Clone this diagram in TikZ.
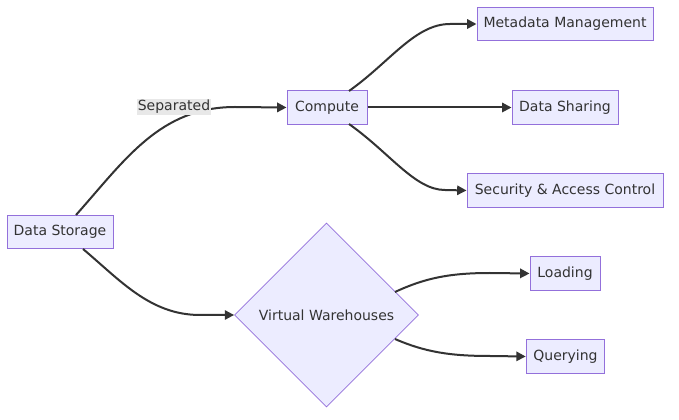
\documentclass[tikz,border=0pt]{standalone}
\usepackage{fontspec}
\setmainfont{DejaVu Sans}
\usetikzlibrary{arrows.meta,shapes.geometric}
\definecolor{nodefill}{HTML}{ECECFF}
\definecolor{nodeline}{HTML}{9370DB}
\definecolor{edgecol}{HTML}{333333}
\definecolor{lblbg}{HTML}{E8E8E8}
\begin{document}
\begin{tikzpicture}[x=0.75pt,y=-0.75pt,
  font=\fontsize{10.5pt}{12pt}\selectfont, text=edgecol,
  box/.style={draw=nodeline, fill=nodefill, line width=0.75pt, inner sep=0pt, minimum height=25pt},
  dia/.style={diamond, draw=nodeline, fill=nodefill, line width=0.6pt, inner sep=0pt, minimum width=138pt, minimum height=138pt},
  edge/.style={draw=edgecol, line width=1.5pt, -{Triangle[length=7pt,width=7pt]}},
  lbl/.style={fill=lblbg, inner sep=1pt}]
\useasboundingbox (0,0) rectangle (679,420);
\node[box, minimum width=79.5pt] (ds) at (60,232) {Data Storage};
\node[box, minimum width=60pt] (cp) at (327,107.5) {Compute};
\node[box, minimum width=132pt] (mm) at (565,24) {Metadata Management};
\node[box, minimum width=79.5pt] (sh) at (565,107.5) {Data Sharing};
\node[box, minimum width=147pt] (sec) at (565,190.5) {Security \& Access Control};
\node[dia] (vw) at (326.5,315) {Virtual Warehouses};
\node[box, minimum width=52.5pt] (ld) at (565,273.5) {Loading};
\node[box, minimum width=59pt] (qr) at (565.5,356.5) {Querying};

\coordinate (dsT) at (76,215);
\coordinate (dsB) at (83,249);
\coordinate (cpTR) at (349,91);
\coordinate (cpBR) at (349,124);
\coordinate (vwU) at (395,292);
\coordinate (vwD) at (395,339);

\draw[edge] (dsT) .. controls (125,160) and (160,107) .. (235,107) -- (cp.west);
\node[lbl] (sep) at (174,107) {Separated};
\draw[edge] (dsB) .. controls (120,280) and (150,315) .. (200,315) -- (vw.west);
\draw[edge] (cpTR) .. controls (390,62) and (415,24) .. (450,24) -- (mm.west);
\draw[edge] (cp.east) -- (sh.west);
\draw[edge] (cpBR) .. controls (390,153) and (415,190) .. (445,190) -- (sec.west);
\draw[edge] (vwU) .. controls (425,278) and (450,273) .. (490,273) -- (ld.west);
\draw[edge] (vwD) .. controls (425,352) and (450,356) .. (490,356) -- (qr.west);
\end{tikzpicture}
\end{document}
